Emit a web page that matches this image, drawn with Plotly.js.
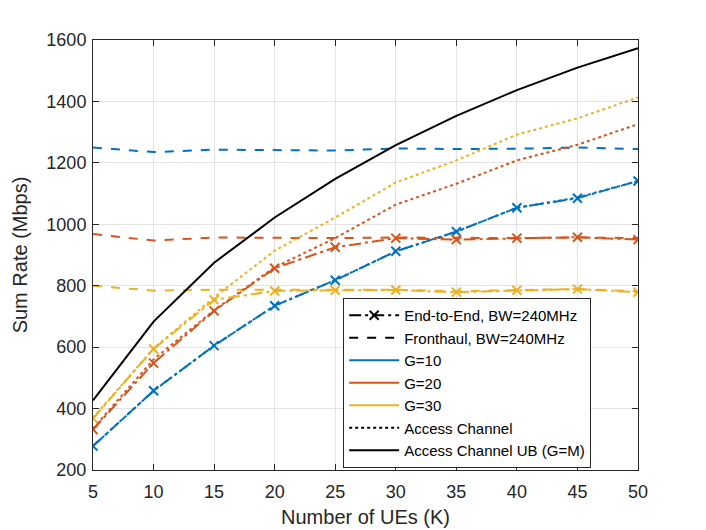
<!DOCTYPE html>
<html>
<head>
<meta charset="utf-8">
<script src="https://cdn.plot.ly/plotly-3.0.1.min.js"></script>
<style>
  html, body { margin: 0; padding: 0; background: #fff; }
  #plot { width: 706px; height: 530px; }
</style>
</head>
<body>
<div id="plot"></div>
<script>
// number of UEs
var K = [5, 10, 15, 20, 25, 30, 35, 40, 45, 50];

// end-to-end rates (Mbps)
var e2eG10 = [278, 458, 605, 735, 818, 912, 976, 1054, 1085, 1141];
var e2eG20 = [332, 548, 718, 857, 925, 955, 950, 955, 958, 950];
var e2eG30 = [368, 594, 754, 783, 785, 786, 779, 785, 789, 779];

// fronthaul rates
var fhG10 = [1250, 1235, 1243, 1242, 1240, 1247, 1245, 1246, 1250, 1245];
var fhG20 = [968, 947, 957, 955, 955, 957, 955, 955, 957, 955];
var fhG30 = [800, 784, 787, 786, 787, 787, 782, 786, 789, 782];

// access channel rates
var acG10 = [278, 458, 605, 735, 818, 912, 976, 1054, 1087, 1141];
var acG20 = [335, 560, 720, 860, 955, 1064, 1132, 1208, 1259, 1326];
var acG30 = [370, 596, 762, 914, 1022, 1136, 1208, 1292, 1345, 1413];
var acUB  = [427, 683, 875, 1022, 1148, 1258, 1353, 1437, 1510, 1573];

var blue = '#0072BD', red = '#D95319', yellow = '#EDB120';
var dashdot = '12px,4px,3px,4px';

function line(y, color, dash, marks) {
  var t = {x: K, y: y, type: 'scatter', showlegend: false,
           mode: marks ? 'lines+markers' : 'lines',
           line: {color: color, width: 2, dash: dash}};
  if (marks) {
    t.marker = {symbol: 'x-thin', size: 9, color: color,
                line: {color: color, width: 2}};
  }
  return t;
}

function key(name, color, dash, marks) {
  var t = line([null], color, dash, marks);
  t.x = [null];
  t.name = name;
  t.showlegend = true;
  return t;
}

var data = [
  line(fhG10, blue, 'dash'),
  line(fhG20, red, 'dash'),
  line(fhG30, yellow, 'dash'),
  line(acG10, blue, 'dot'),
  line(acG20, red, 'dot'),
  line(acG30, yellow, 'dot'),
  line(e2eG10, blue, dashdot, true),
  line(e2eG20, red, dashdot, true),
  line(e2eG30, yellow, dashdot, true),
  line(acUB, '#000', 'solid'),
  key('End-to-End, BW=240MHz', '#000', dashdot, true),
  key('Fronthaul, BW=240MHz', '#000', 'dash'),
  key('G=10', blue, 'solid'),
  key('G=20', red, 'solid'),
  key('G=30', yellow, 'solid'),
  key('Access Channel', '#000', 'dot'),
  key('Access Channel UB (G=M)', '#000', 'solid')
];

var axisCommon = {
  showline: true, linecolor: '#262626', linewidth: 1, mirror: 'ticks',
  ticks: 'inside', ticklen: 6, tickcolor: '#262626',
  showgrid: true, gridcolor: '#e3e3e3', gridwidth: 1, zeroline: false,
  tickfont: {size: 18, color: '#262626'}
};

var layout = {
  width: 706, height: 530,
  margin: {l: 93, r: 68, t: 40, b: 60},
  paper_bgcolor: '#fff', plot_bgcolor: '#fff',
  font: {family: 'Liberation Sans, Arial, sans-serif', color: '#262626'},
  xaxis: Object.assign({}, axisCommon, {
    range: [5, 50], tickvals: [5, 10, 15, 20, 25, 30, 35, 40, 45, 50],
    ticklabelstandoff: 5,
    title: {text: 'Number of UEs (K)', font: {size: 20}, standoff: 9}
  }),
  yaxis: Object.assign({}, axisCommon, {
    range: [200, 1600], dtick: 200,
    ticklabelstandoff: 2,
    title: {text: 'Sum Rate (Mbps)', font: {size: 20}, standoff: 13}
  }),
  legend: {
    x: 0.459, y: 0.400, xanchor: 'left', yanchor: 'top',
    bgcolor: '#fff', bordercolor: '#262626', borderwidth: 1,
    font: {size: 15, color: '#000'}, tracegroupgap: 0, itemwidth: 50
  },
  showlegend: true
};

Plotly.newPlot('plot', data, layout, {displayModeBar: false, staticPlot: true});
</script>
</body>
</html>
